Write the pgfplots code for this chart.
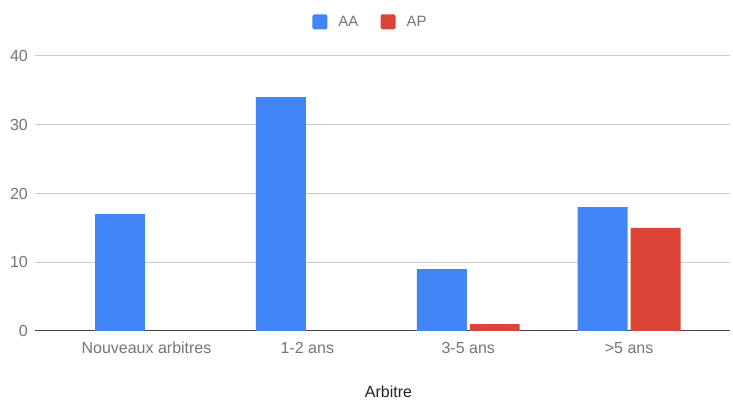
\documentclass[border=0pt]{standalone}
\usepackage{pgfplots}
\pgfplotsset{compat=1.18}
\usepackage{fontspec}
\setmainfont{Liberation Sans}
\definecolor{gblue}{HTML}{4285F4}
\definecolor{gred}{HTML}{DB4437}
\definecolor{lbl}{HTML}{757575}
\definecolor{grd}{HTML}{CCCCCC}
\definecolor{axl}{HTML}{444444}
\definecolor{ttl}{HTML}{222222}
\begin{document}
\begin{tikzpicture}
\path[use as bounding box] (0,0) rectangle (733pt,401pt);
\begin{axis}[
  at={(35pt,70pt)}, anchor=south west,
  scale only axis, width=695pt, height=275pt,
  xmin=-0.693, xmax=3.627, ymin=0, ymax=40,
  xtick={0,1,2,3},
  xticklabels={Nouveaux arbitres,1-2 ans,3-5 ans,>5 ans},
  ytick={0,10,20,30,40},
  major tick length=0pt,
  axis line style={draw=none},
  ymajorgrids, grid style={color=grd, line width=1pt},
  extra y ticks={0}, extra y tick labels={},
  extra y tick style={grid style={color=axl, line width=1pt}},
  /pgf/number format/assume math mode=true,
  tick label style={font=\fontsize{16}{19}\selectfont, text=lbl},
  yticklabel style={anchor=east, inner sep=0pt, xshift=-7pt},
  xticklabel style={anchor=north, inner sep=0pt, yshift=-11pt},
  xlabel={Arbitre},
  xlabel style={at={(axis description cs:0.5,0)}, anchor=north, inner sep=0pt,
    yshift=-55pt, xshift=6pt, font=\fontsize{16}{19}\selectfont, text=ttl},
  ybar, bar width=0.3106,
  legend columns=2,
  legend style={at={(axis description cs:0.5,1)}, anchor=center, yshift=34pt, xshift=-13pt,
    draw=none, fill=none, inner sep=0pt, column sep=0pt,
    nodes={inner sep=0pt, text=lbl, font=\fontsize{15}{18}\selectfont},
    /tikz/every even column/.append style={column sep=22pt}},
  legend image code/.code={\fill[#1, rounded corners=1.5pt] (0pt,-7.5pt) rectangle (15pt,7.5pt); \path (26pt,0pt);},
]
\addplot[fill=gblue, draw=none, bar shift=-0.1646] coordinates {(0,17) (1,34) (2,9) (3,18)};
\addlegendentry{AA}
\addplot[fill=gred, draw=none, bar shift=0.1646] coordinates {(2,1) (3,15)};
\addlegendentry{AP}
\end{axis}
\end{tikzpicture}
\end{document}
